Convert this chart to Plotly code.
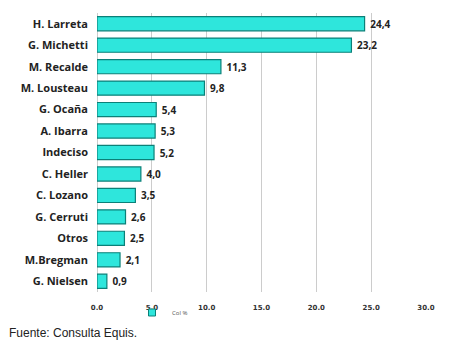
import plotly.graph_objects as go

categories = ["H. Larreta", "G. Michetti", "M. Recalde", "M. Lousteau", "G. Ocaña",
              "A. Ibarra", "Indeciso", "C. Heller", "C. Lozano", "G. Cerruti",
              "Otros", "M.Bregman", "G. Nielsen"]
values = [24.4, 23.2, 11.3, 9.8, 5.4, 5.3, 5.2, 4.0, 3.5, 2.6, 2.5, 2.1, 0.9]
tick_vals = [0, 5, 10, 15, 20, 25, 30]
tick_text = ["0.0", "5.0", "10.0", "15.0", "20.0", "25.0", "30.0"]
series_name = "Col %"
source_text = "Fuente: Consulta Equis."

labels = [f" <b>{v:.1f}</b>".replace(".", ",") for v in values]

fig = go.Figure()
fig.add_trace(go.Bar(
    y=categories, x=values, orientation="h", name=series_name,
    marker=dict(color="#2EE6DC", line=dict(color="#0B8078", width=1.2)),
    width=0.66,
    text=labels, textposition="outside", cliponaxis=False,
    textfont=dict(family="Open Sans", size=10, color="#222222"),
    showlegend=False,
))
# legend-only entry with a small square symbol
fig.add_trace(go.Scatter(
    x=[None], y=[None], mode="markers", name=series_name,
    marker=dict(symbol="square", size=7, color="#2EE6DC",
                line=dict(color="#0B8078", width=1)),
    showlegend=True,
))

fig.update_layout(
    width=450, height=351,
    margin=dict(l=97, r=24, t=13, b=59),
    plot_bgcolor="white", paper_bgcolor="white",
    font=dict(family="Open Sans", color="#222222"),
    xaxis=dict(range=[0, 30], tickvals=tick_vals, ticktext=tick_text,
               showgrid=True, gridcolor="#CCCCCC", gridwidth=1,
               zeroline=True, zerolinecolor="#CCCCCC", zerolinewidth=1,
               showline=False, ticks="", ticklabelstandoff=10,
               tickfont=dict(family="DejaVu Sans", size=7, color="#333333", weight="bold")),
    yaxis=dict(autorange="reversed", showgrid=False, showline=False, ticks="",
               ticklabelstandoff=8,
               tickfont=dict(family="Open Sans", size=11, color="#222222", weight="bold")),
    legend=dict(x=(132 - 97) / 329, y=(292 - 298) / 279, xanchor="left", yanchor="top",
                font=dict(size=6, color="#555555"), bgcolor="rgba(0,0,0,0)",
                itemwidth=30, tracegroupgap=0),
    annotations=[dict(text=source_text, xref="paper", yref="paper",
                      x=(7 - 97) / 329, y=(351 - 59 - 333) / 279,
                      xanchor="left", yanchor="middle", showarrow=False,
                      font=dict(family="Liberation Sans", size=12, color="#222222"))],
)

fig.write_html("out.html")
